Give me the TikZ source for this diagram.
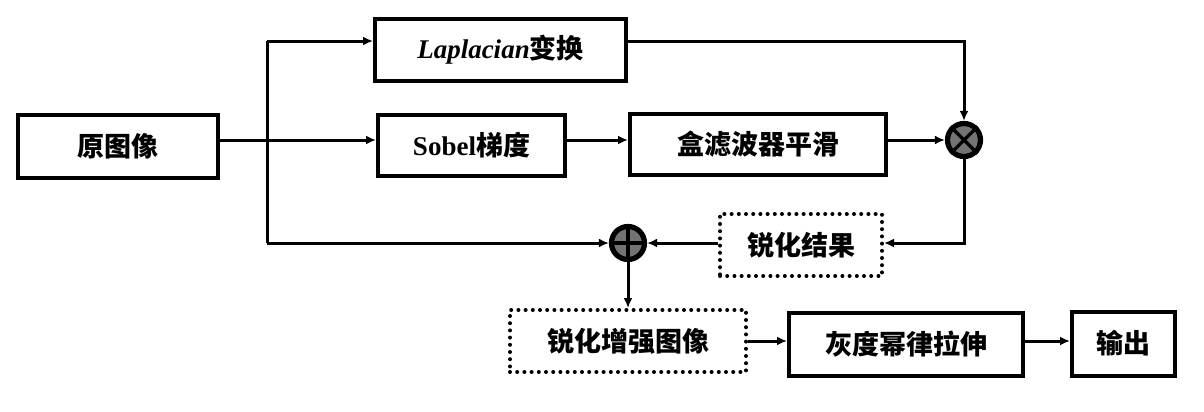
\documentclass[tikz,border=0pt]{standalone}
\usepackage{fontspec}
\setmainfont{Liberation Serif}
\newfontfamily\cjk{Noto Sans CJK SC}
\usetikzlibrary{arrows.meta,calc}
\begin{document}
\begin{tikzpicture}[x=0.5pt,y=-0.5pt,
  txt/.style={font=\bfseries\fontsize{13.5}{13.5}\selectfont, inner sep=0pt},
  blk/.style 2 args={txt, draw, line width=2pt, minimum width=#1, minimum height=#2},
  dotblk/.style 2 args={txt, draw, line width=2pt, dash pattern=on 0pt off 3.6pt, line cap=round, minimum width=#1, minimum height=#2},
  opnode/.style={circle, draw, line width=2.6pt, fill=black!55, minimum size=16.5pt, inner sep=0pt},
  conn/.style={line width=1.5pt},
  arr/.style={conn, -{Latex[length=5pt,width=4.5pt]}}
]
\useasboundingbox (0,0) rectangle (1204,412);
% nodes
\node[blk={100pt}{31.5pt}] (orig) at (118,146.5) {\cjk 原图像};
\node[blk={125.5pt}{31pt}] (lap) at (500.5,49.5) {\textit{Laplacian}{\cjk 变换}};
\node[blk={93.5pt}{30.5pt}] (sobel) at (471.5,145.5) {Sobel{\cjk 梯度}};
\node[blk={128pt}{30.5pt}] (box) at (758,144.5) {\cjk 盒滤波器平滑};
\node[opnode] (mul) at (964,140) {};
\draw[line width=1.6pt] (mul.north west) -- (mul.south east) (mul.north east) -- (mul.south west);
\node[dotblk={81pt}{31pt}] (res) at (801,245) {\cjk 锐化结果};
\node[opnode] (plus) at (628,243) {};
\draw[line width=1.6pt] (plus.north) -- (plus.south) (plus.west) -- (plus.east);
\node[dotblk={118pt}{31pt}] (enh) at (628,341) {\cjk 锐化增强图像};
\node[blk={117pt}{31.5pt}] (gray) at (906,344) {\cjk 灰度幂律拉伸};
\node[blk={51.5pt}{32pt}] (out) at (1123.5,343.5) {\cjk 输出};
% coordinates
\coordinate (st) at (267,41);
\coordinate (sb) at (267,243);
% connectors
\draw[conn] (st) -- (sb);
\draw[arr] (orig.east |- mul) -- (sobel.west |- mul);
\draw[arr] (st) -- (lap.west |- st);
\draw[arr] (sobel.east |- mul) -- (box.west |- mul);
\draw[arr] (box.east |- mul) -- (mul);
\draw[arr] (lap.east |- st) -| (mul);
\draw[arr] (mul) |- (res.east |- plus);
\draw[arr] (res.west |- plus) -- (plus);
\draw[arr] (sb) -- (plus);
\draw[arr] (plus) -- (plus |- enh.north);
\draw[arr] (enh.east |- 0,341) -- (gray.west |- 0,341);
\draw[arr] (gray.east |- 0,341) -- (out.west |- 0,341);
\end{tikzpicture}
\end{document}
